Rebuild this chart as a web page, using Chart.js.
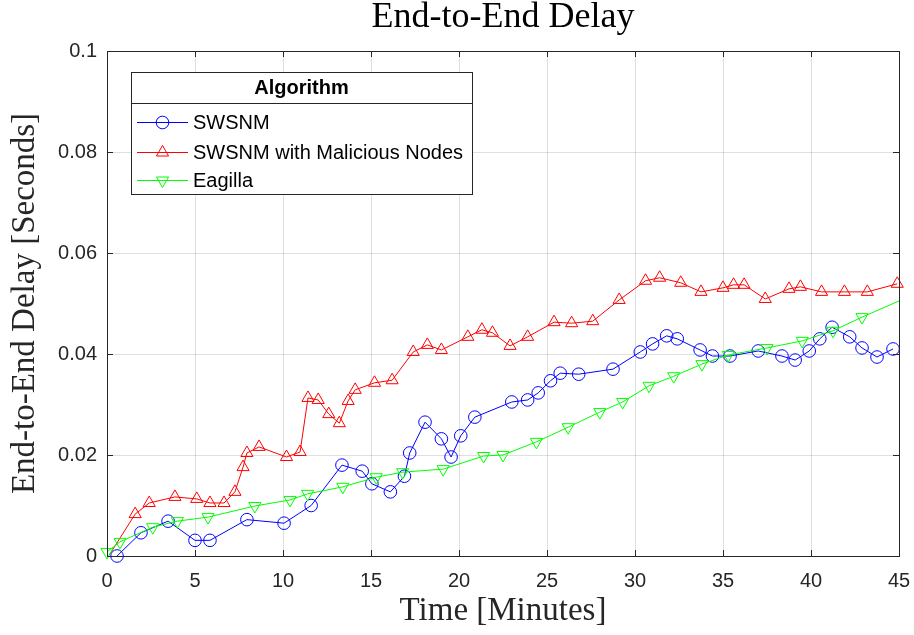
<!DOCTYPE html>
<html><head><meta charset="utf-8">
<script src="https://cdn.jsdelivr.net/npm/chart.js@4.4.1/dist/chart.umd.min.js"></script>
<style>html,body{margin:0;padding:0;background:#fff;}#wrap{width:914px;height:635px;}</style>
</head><body><div id="wrap"><canvas id="c" width="914" height="635"></canvas></div>
<script>
// ---- data ----
const chartTitle = 'End-to-End Delay';
const xAxisTitle = 'Time [Minutes]';
const yAxisTitle = 'End-to-End Delay [Seconds]';
const legendTitle = 'Algorithm';
const seriesNames = ['SWSNM', 'SWSNM with Malicious Nodes', 'Eagilla'];

const swsnmTime  = [0.57,1.93,3.47,5.0,5.85,7.95,10.06,11.6,13.35,14.5,15.05,16.1,16.9,17.2,18.07,19.0,19.55,20.1,20.9,23.0,23.9,24.5,25.2,25.75,26.8,28.75,30.3,31.0,31.8,32.4,33.7,34.4,35.4,37.0,38.35,39.1,39.9,40.5,41.2,42.2,42.9,43.75,44.66];
const swsnmDelay = [0.0,0.0046,0.0069,0.0031,0.0031,0.0072,0.0065,0.0100,0.0180,0.0168,0.0143,0.0127,0.0158,0.0204,0.0265,0.0232,0.0196,0.0238,0.0275,0.0305,0.0309,0.0323,0.0347,0.0362,0.0360,0.0370,0.0404,0.0420,0.0436,0.0430,0.0408,0.0396,0.0396,0.0406,0.0396,0.0388,0.0406,0.0430,0.0453,0.0434,0.0412,0.0394,0.0410];

const maliciousTime  = [0.15,1.6,2.4,3.86,5.1,5.85,6.65,7.27,7.73,7.95,8.64,10.2,10.97,11.42,12.0,12.6,13.2,13.7,14.1,15.2,16.2,17.4,18.2,19.0,20.5,21.3,21.9,22.9,23.9,25.4,26.4,27.6,29.1,30.6,31.4,32.6,33.75,35.0,35.6,36.2,37.4,38.75,39.4,40.6,41.9,43.2,44.9];
const maliciousDelay = [0.0003,0.0083,0.0105,0.0117,0.0113,0.0105,0.0105,0.0127,0.0176,0.0204,0.0216,0.0196,0.0206,0.0313,0.0309,0.0281,0.0263,0.0307,0.0329,0.0343,0.0348,0.0404,0.0418,0.0408,0.0434,0.0448,0.0442,0.0416,0.0434,0.0463,0.0461,0.0465,0.0507,0.0545,0.0551,0.0541,0.0523,0.0531,0.0537,0.0537,0.0509,0.0529,0.0533,0.0523,0.0523,0.0523,0.0539];

const eagillaTime  = [0.0,0.74,2.6,4.0,5.74,8.4,10.4,11.4,13.4,15.3,16.8,19.1,21.4,22.5,24.4,26.2,28.0,29.3,30.8,32.2,33.8,35.3,37.5,39.5,41.25,42.9,45.0];
const eagillaDelay = [0.0008,0.0028,0.0057,0.0069,0.0077,0.0099,0.0111,0.0123,0.0137,0.0156,0.0166,0.0172,0.0198,0.0200,0.0226,0.0255,0.0285,0.0305,0.0337,0.0356,0.0380,0.0398,0.0412,0.0426,0.0446,0.0473,0.0505];

const xTickValues = [0,5,10,15,20,25,30,35,40,45];
const yTickLabels = ['0','0.02','0.04','0.06','0.08','0.1'];

// ---- build ----
const toPts = (xs, ys) => xs.map((x, i) => ({x: x, y: ys[i]}));
const AX = '#262626';
const SANS = "'Liberation Sans', Arial, sans-serif";
const SERIF = "'Liberation Serif', 'Times New Roman', serif";

const styles = [
  {color: '#0000ff', pointStyle: 'circle', radius: 6.3, rotation: 0},
  {color: '#ff0000', pointStyle: 'triangle', radius: 7, rotation: 0},
  {color: '#00ff00', pointStyle: 'triangle', radius: 7, rotation: 180}
];

const datasets = [
  {label: seriesNames[0], data: toPts(swsnmTime, swsnmDelay), order: 2,
   pointRadius: styles[0].radius},
  {label: seriesNames[1], data: toPts(maliciousTime, maliciousDelay), order: 1,
   pointRadius: ctx => ctx.dataIndex === 0 ? 0 : styles[1].radius},
  {label: seriesNames[2], data: toPts(eagillaTime, eagillaDelay), order: 0,
   pointRadius: ctx => ctx.dataIndex === eagillaTime.length - 1 ? 0 : styles[2].radius}
].map((d, i) => Object.assign(d, {
  borderColor: styles[i].color,
  backgroundColor: 'rgba(0,0,0,0)',
  pointBorderColor: styles[i].color,
  pointBackgroundColor: 'rgba(0,0,0,0)',
  pointStyle: styles[i].pointStyle,
  pointRotation: styles[i].rotation,
  pointBorderWidth: 1,
  pointHoverRadius: styles[i].radius,
  borderWidth: 1,
  tension: 0,
  clip: false
}));

function drawMarker(ctx, st, x, y) {
  ctx.save();
  ctx.strokeStyle = st.color;
  ctx.lineWidth = 1;
  ctx.beginPath();
  if (st.pointStyle === 'circle') {
    ctx.arc(x, y, st.radius, 0, Math.PI * 2);
  } else {
    let rad = st.rotation * Math.PI / 180;
    const r = st.radius;
    ctx.moveTo(x + Math.sin(rad) * r, y - Math.cos(rad) * r);
    rad += 2 * Math.PI / 3;
    ctx.lineTo(x + Math.sin(rad) * r, y - Math.cos(rad) * r);
    rad += 2 * Math.PI / 3;
    ctx.lineTo(x + Math.sin(rad) * r, y - Math.cos(rad) * r);
    ctx.closePath();
  }
  ctx.stroke();
  ctx.restore();
}

const framePlugin = {
  id: 'frame',
  afterDatasetsDraw(chart) {
    const {ctx, chartArea: a, scales} = chart;
    ctx.save();
    ctx.strokeStyle = AX;
    ctx.lineWidth = 1;
    const tl = 6;
    ctx.beginPath();
    scales.x.ticks.forEach(t => {
      const px = Math.round(scales.x.getPixelForValue(t.value)) + 0.5;
      ctx.moveTo(px, a.bottom); ctx.lineTo(px, a.bottom - tl);
      ctx.moveTo(px, a.top); ctx.lineTo(px, a.top + tl);
    });
    scales.y.ticks.forEach(t => {
      const py = Math.round(scales.y.getPixelForValue(t.value)) + 0.5;
      ctx.moveTo(a.left, py); ctx.lineTo(a.left + tl, py);
      ctx.moveTo(a.right, py); ctx.lineTo(a.right - tl, py);
    });
    ctx.stroke();
    ctx.strokeRect(Math.round(a.left) + 0.5, Math.round(a.top) + 0.5,
                   Math.round(a.right - a.left), Math.round(a.bottom - a.top));
    ctx.restore();
  },
  afterDraw(chart) {
    const ctx = chart.ctx;
    const a = chart.chartArea;
    ctx.save();
    // chart title, centred over the plot area
    ctx.fillStyle = '#000000';
    ctx.textAlign = 'center';
    ctx.textBaseline = 'middle';
    ctx.font = '36px ' + SERIF;
    ctx.fillText(chartTitle, (a.left + a.right) / 2, 18);
    // legend box
    const L = 131, T = 72, R = 472, B = 194, sep = 103;
    ctx.fillStyle = '#ffffff';
    ctx.fillRect(L, T, R - L, B - T);
    ctx.strokeStyle = AX;
    ctx.lineWidth = 1;
    ctx.strokeRect(L + 0.5, T + 0.5, R - L, B - T);
    ctx.beginPath();
    ctx.moveTo(L, sep + 0.5); ctx.lineTo(R, sep + 0.5);
    ctx.stroke();
    ctx.fillStyle = '#000000';
    ctx.textAlign = 'center';
    ctx.font = 'bold 20px ' + SANS;
    ctx.fillText(legendTitle, (L + R) / 2, 88);
    ctx.textAlign = 'left';
    ctx.font = '20px ' + SANS;
    const rows = [122, 152, 180];
    chart.data.datasets.forEach((d, i) => {
      const y = rows[i];
      ctx.strokeStyle = styles[i].color;
      ctx.lineWidth = 1;
      ctx.beginPath();
      ctx.moveTo(137, y + 0.5); ctx.lineTo(188, y + 0.5);
      ctx.stroke();
      drawMarker(ctx, styles[i], 162.5, y + 0.5);
      ctx.fillStyle = '#000000';
      ctx.fillText(d.label, 193, y + 1);
    });
    ctx.restore();
  }
};

new Chart(document.getElementById('c'), {
  type: 'line',
  data: {datasets: datasets},
  options: {
    responsive: false,
    animation: false,
    devicePixelRatio: 1,
    layout: {padding: {left: 0, right: 15, top: 51, bottom: 0}},
    plugins: {
      legend: {display: false},
      tooltip: {enabled: false},
      title: {display: false}
    },
    scales: {
      x: {
        type: 'linear', min: 0, max: 45,
        afterBuildTicks: s => { s.ticks = xTickValues.map(v => ({value: v})); },
        afterFit: s => { s.height = 79; s.paddingRight = 0; s.paddingLeft = 0; },
        grid: {color: 'rgba(38,38,38,0.15)', lineWidth: 1, drawTicks: false},
        border: {display: false},
        ticks: {color: AX, font: {family: SANS, size: 20}, padding: 13, maxRotation: 0, autoSkip: false,
                callback: v => String(v)},
        title: {display: true, text: xAxisTitle, color: AX,
                font: {family: SERIF, size: 33, weight: 'normal'}, padding: {top: 0, bottom: 4}}
      },
      y: {
        type: 'linear', min: 0, max: 0.1,
        ticks: {stepSize: 0.02, color: AX, font: {family: SANS, size: 20}, padding: 10,
                callback: (v, i) => yTickLabels[i]},
        afterFit: s => { s.width = 107; s.paddingTop = 0; s.paddingBottom = 0; },
        grid: {color: 'rgba(38,38,38,0.15)', lineWidth: 1, drawTicks: false},
        border: {display: false},
        title: {display: true, text: yAxisTitle, color: AX,
                font: {family: SERIF, size: 33, weight: 'normal'}, padding: {top: 6, bottom: 0}}
      }
    }
  },
  plugins: [framePlugin]
});
</script></body></html>
